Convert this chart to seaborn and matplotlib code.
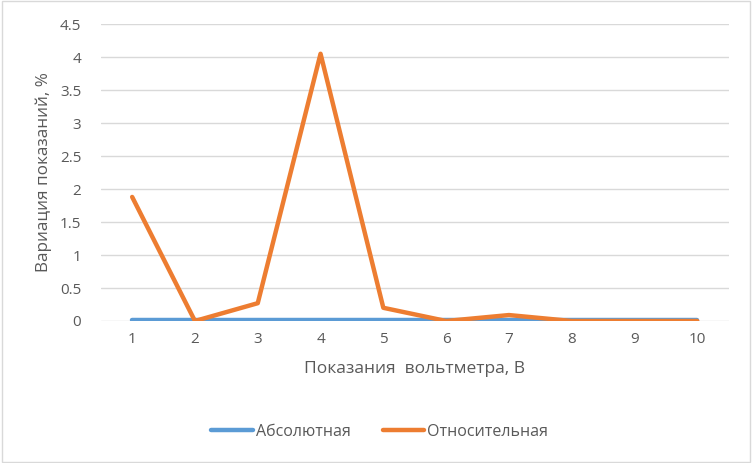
import matplotlib
matplotlib.use("Agg")
import matplotlib.pyplot as plt
import seaborn as sns
import pandas as pd
from matplotlib.patches import Rectangle
from matplotlib.lines import Line2D

categories = [1, 2, 3, 4, 5, 6, 7, 8, 9, 10]
absolute = [0.01, 0.01, 0.01, 0.01, 0.01, 0.01, 0.01, 0.01, 0.01, 0.01]
relative = [1.88, 0.0, 0.27, 4.05, 0.2, 0.0, 0.09, 0.0, 0.0, 0.0]
series_names = ["Абсолютная", "Относительная"]
yticks = [0, 0.5, 1, 1.5, 2, 2.5, 3, 3.5, 4, 4.5]
ytick_labels = ["0", "0.5", "1", "1.5", "2", "2.5", "3", "3.5", "4", "4.5"]

df = pd.DataFrame({
    "x": list(range(len(categories))) * 2,
    "y": absolute + relative,
    "s": [series_names[0]] * len(categories) + [series_names[1]] * len(categories),
})

sns.set_theme(style="white")
plt.rcParams['font.family'] = ['Open Sans', 'DejaVu Sans']

fig = plt.figure(figsize=(7.52, 4.63), dpi=100)
ax = fig.add_axes([0.134, 0.3067, 0.835, 0.6413])

sns.lineplot(data=df, x="x", y="y", hue="s", palette=["#5B9BD5", "#ED7D31"],
             linewidth=3.2, ax=ax, legend=False, zorder=3)
for l in ax.lines:
    l.set_solid_capstyle("round")
    l.set_solid_joinstyle("round")

ax.set_xlim(-0.5, len(categories) - 0.5)
ax.set_ylim(0, 4.5)
ax.set_yticks(yticks)
ax.set_yticklabels(ytick_labels)
ax.set_xticks(range(len(categories)))
ax.set_xticklabels([str(c) for c in categories])
ax.yaxis.grid(True, color="#D9D9D9", linewidth=1)
ax.set_axisbelow(True)
for sp in ax.spines.values():
    sp.set_visible(False)
ax.tick_params(axis="both", length=0, colors="#595959", labelsize=11)
ax.tick_params(axis="y", pad=14)
ax.tick_params(axis="x", pad=8)
ax.set_xlabel("Показания  вольтметра, В", fontsize=12.5, color="#595959", labelpad=10)
ax.set_ylabel("Вариация показаний, %", fontsize=12.3, color="#595959", labelpad=6)

handles = [Line2D([0], [0], color="#5B9BD5", lw=3.2, solid_capstyle="round"),
           Line2D([0], [0], color="#ED7D31", lw=3.2, solid_capstyle="round")]
leg = fig.legend(handles, series_names, loc="center", bbox_to_anchor=(0.505, 0.067),
                 ncol=2, frameon=False, fontsize=11.5, handlelength=2.6,
                 handletextpad=0.2, columnspacing=2.0)
for t in leg.get_texts():
    t.set_color("#595959")

fig.patches.append(Rectangle((0.002, 0.002), 0.996, 0.996, transform=fig.transFigure,
                             fill=False, edgecolor="#D9D9D9", linewidth=1))

fig.savefig("out.png", dpi=100, facecolor="white")
